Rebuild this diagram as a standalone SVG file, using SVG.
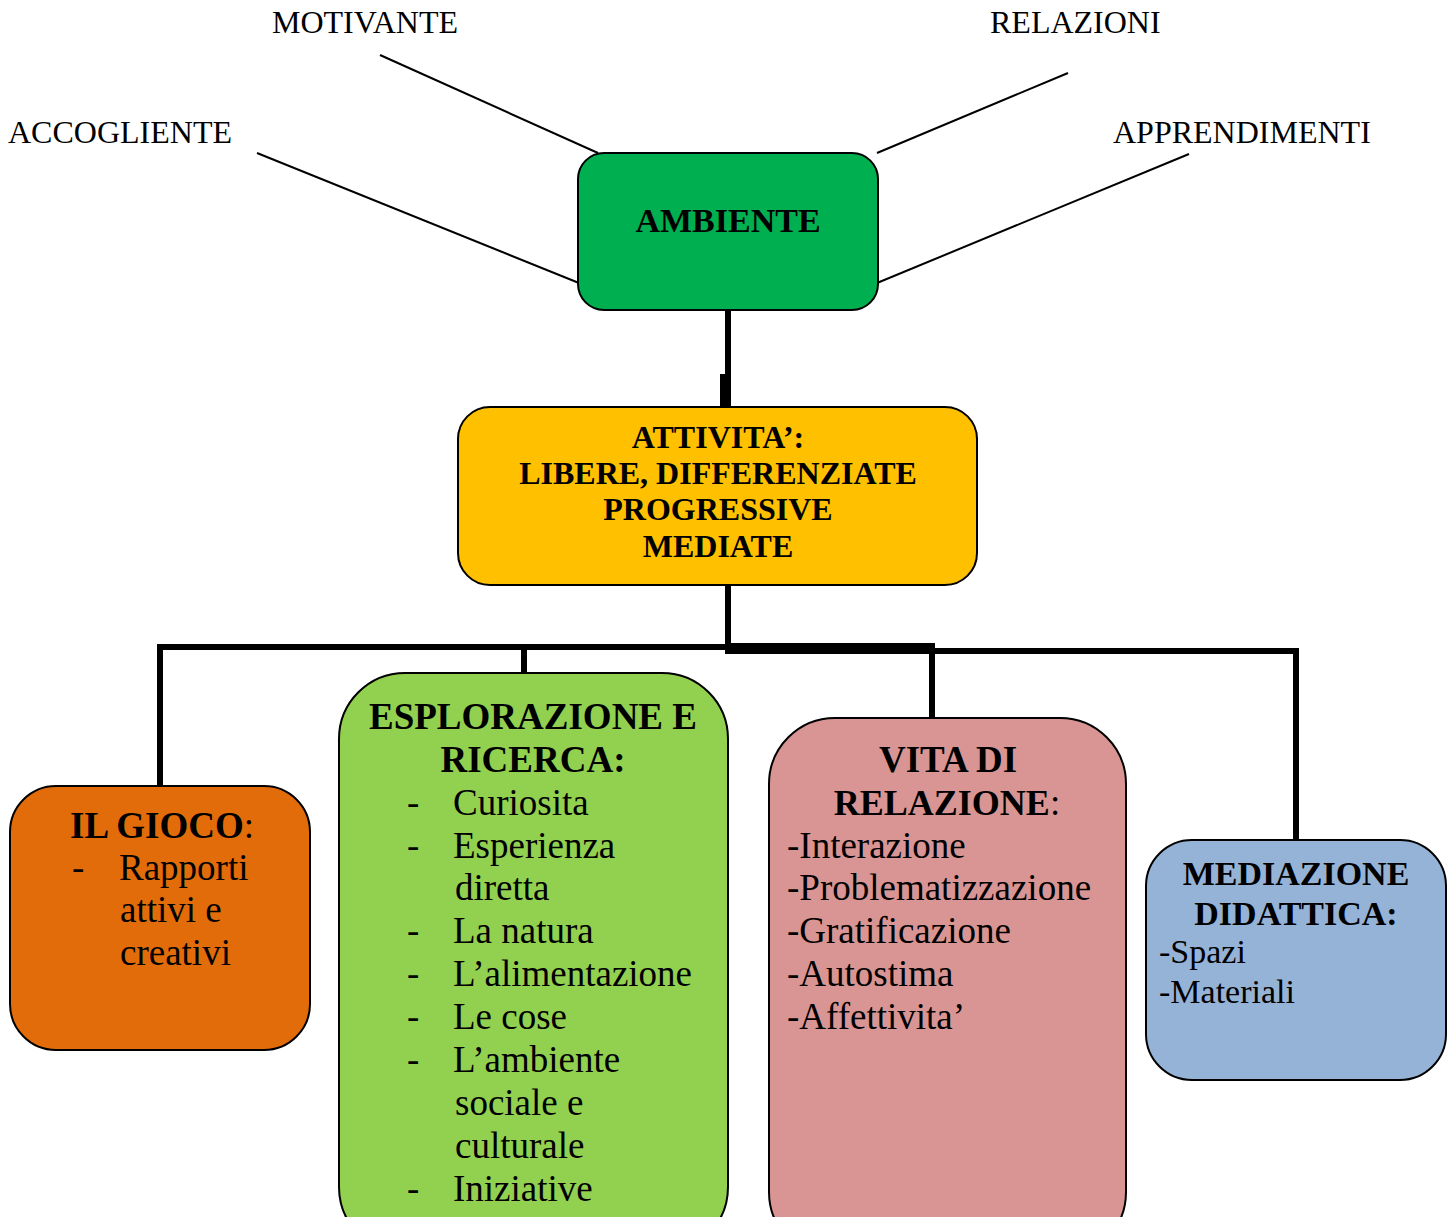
<svg xmlns="http://www.w3.org/2000/svg" width="1454" height="1217" viewBox="0 0 1454 1217">
<style>
text { font-family: "Liberation Serif", "Times New Roman", serif; fill: #000; }
.lbl { font-size: 32px; }
.b { font-weight: bold; }
.box { stroke: #000; stroke-width: 2; }
.thin { stroke: #000; stroke-width: 2; fill: none; }
.conn { stroke: #000; stroke-width: 6; fill: none; }
.t37 { font-size: 37px; }
.t34 { font-size: 34px; }
</style>
<rect width="1454" height="1217" fill="#fff"/>

<g id="connectors">
  <line class="thin" x1="380" y1="55" x2="598" y2="153"/>
  <line class="thin" x1="257" y1="153" x2="579" y2="283"/>
  <line class="thin" x1="1068" y1="73" x2="877" y2="153"/>
  <line class="thin" x1="1189" y1="154" x2="877" y2="283"/>
  <line class="conn" x1="728" y1="310" x2="728" y2="408"/>
  <rect x="720" y="374" width="11" height="34" fill="#000"/>
  <line class="conn" x1="728" y1="585" x2="728" y2="654"/>
  <polyline class="conn" points="160,786 160,647 728,647"/>
  <line class="conn" x1="524" y1="647" x2="524" y2="674"/>
  <rect x="725" y="643" width="210" height="11" fill="#000"/>
  <polyline class="conn" points="932,718 932,651 1296,651 1296,840"/>
</g>

<g id="label-motivante"><text class="lbl" x="272" y="33">MOTIVANTE</text></g>
<g id="label-accogliente"><text class="lbl" x="8" y="143">ACCOGLIENTE</text></g>
<g id="label-relazioni"><text class="lbl" x="990" y="33">RELAZIONI</text></g>
<g id="label-apprendimenti"><text class="lbl" x="1113" y="143">APPRENDIMENTI</text></g>

<g id="ambiente">
  <rect class="box" x="578" y="153" width="300" height="157" rx="26" fill="#00B050"/>
  <text class="b" x="728" y="232" font-size="34" text-anchor="middle">AMBIENTE</text>
</g>

<g id="attivita">
  <rect class="box" x="458" y="407" width="519" height="178" rx="32" fill="#FFC000"/>
  <g class="b" font-size="32" text-anchor="middle">
    <text x="718" y="448">ATTIVITA’:</text>
    <text x="718" y="484">LIBERE, DIFFERENZIATE</text>
    <text x="718" y="520">PROGRESSIVE</text>
    <text x="718" y="557">MEDIATE</text>
  </g>
</g>

<g id="gioco">
  <rect class="box" x="10" y="786" width="300" height="264" rx="46" fill="#E36C0A"/>
  <text class="t37" x="70" y="838"><tspan class="b">IL GIOCO</tspan>:</text>
  <text class="t37" x="72" y="880">-</text>
  <text class="t37" x="119" y="880">Rapporti</text>
  <text class="t37" x="120" y="922">attivi e</text>
  <text class="t37" x="120" y="965">creativi</text>
</g>

<g id="esplorazione">
  <rect class="box" x="339" y="673" width="389" height="580" rx="66" fill="#92D050"/>
  <text class="t37 b" x="533" y="729" text-anchor="middle" font-size="36">ESPLORAZIONE E</text>
  <text class="t37 b" x="533" y="772" text-anchor="middle" font-size="36">RICERCA:</text>
  <g class="t37">
    <text x="407" y="815">-</text><text x="453" y="815">Curiosita</text>
    <text x="407" y="858">-</text><text x="453" y="858">Esperienza</text>
    <text x="455" y="900">diretta</text>
    <text x="407" y="943">-</text><text x="453" y="943">La natura</text>
    <text x="407" y="986">-</text><text x="453" y="986">L’alimentazione</text>
    <text x="407" y="1029">-</text><text x="453" y="1029">Le cose</text>
    <text x="407" y="1072">-</text><text x="453" y="1072">L’ambiente</text>
    <text x="455" y="1115">sociale e</text>
    <text x="455" y="1158">culturale</text>
    <text x="407" y="1201">-</text><text x="453" y="1201">Iniziative</text>
  </g>
</g>

<g id="vita">
  <rect class="box" x="769" y="718" width="357" height="540" rx="66" fill="#D99594"/>
  <text class="t37 b" x="948" y="772" text-anchor="middle" font-size="36">VITA DI</text>
  <text class="t37" x="947" y="815" text-anchor="middle"><tspan class="b" font-size="36">RELAZIONE</tspan>:</text>
  <g class="t37">
    <text x="787" y="858">-Interazione</text>
    <text x="787" y="900">-Problematizzazione</text>
    <text x="787" y="943">-Gratificazione</text>
    <text x="787" y="986">-Autostima</text>
    <text x="787" y="1029">-Affettivita’</text>
  </g>
</g>

<g id="mediazione">
  <rect class="box" x="1146" y="840" width="300" height="240" rx="46" fill="#95B3D7"/>
  <text class="t34 b" x="1296" y="885" text-anchor="middle">MEDIAZIONE</text>
  <text class="t34 b" x="1296" y="925" text-anchor="middle">DIDATTICA:</text>
  <text class="t34" x="1159" y="963">-Spazi</text>
  <text class="t34" x="1159" y="1003">-Materiali</text>
</g>
</svg>
